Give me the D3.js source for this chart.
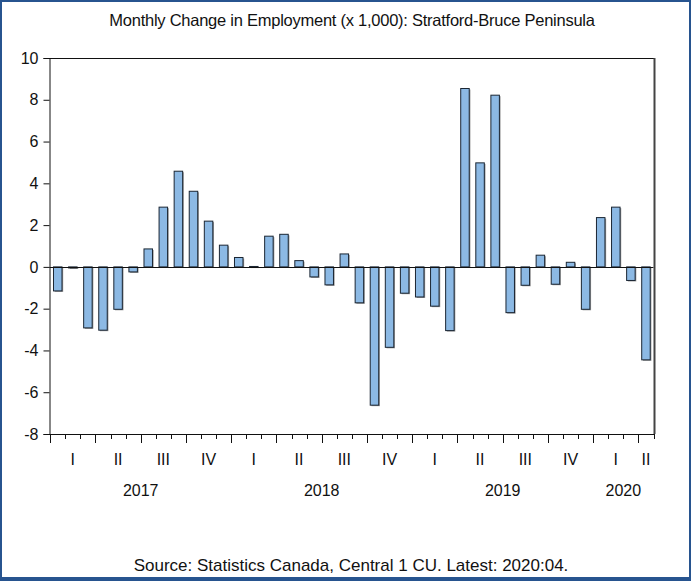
<!DOCTYPE html>
<html>
<head>
<meta charset="utf-8">
<script src="https://cdn.jsdelivr.net/npm/d3@7"></script>
<style>
  html, body { margin: 0; padding: 0; background: #fff; }
  svg { display: block; }
  text { font-family: "Liberation Sans", Arial, sans-serif; fill: #111; }
</style>
</head>
<body>
<svg id="chart" width="691" height="581"></svg>
<script>
// Monthly change in employment (thousands), Jan 2017 – Apr 2020
const startYear = 2017;
const months = d3.range(40).map(i => `${startYear + Math.floor(i / 12)}:${String(i % 12 + 1).padStart(2, "0")}`);
const changes = [
  -1.15, -0.05, -2.92, -3.03, -2.03, -0.24, 0.86, 2.86, 4.58, 3.62, 2.19, 1.04,
  0.45, 0.02, 1.47, 1.56, 0.30, -0.48, -0.86, 0.62, -1.72, -6.62, -3.85, -1.26,
  -1.44, -1.88, -3.05, 8.54, 4.98, 8.22, -2.19, -0.88, 0.56, -0.83, 0.22, -2.03,
  2.36, 2.86, -0.65, -4.45
];
const yTicks = [-8, -6, -4, -2, 0, 2, 4, 6, 8, 10];
const quarterNames = ["I", "II", "III", "IV"];
const years = [2017, 2018, 2019, 2020];
const titleText = "Monthly Change in Employment (x 1,000): Stratford-Bruce Peninsula";
const sourceText = "Source: Statistics Canada, Central 1 CU. Latest: 2020:04.";

const svg = d3.select("#chart");
const W = 691, H = 581;

// Outer frame
svg.append("rect").attr("x", 0).attr("y", 0).attr("width", W).attr("height", H).attr("fill", "#27548f");
svg.append("rect").attr("x", 2).attr("y", 2).attr("width", W - 4).attr("height", H - 6).attr("fill", "#fff");

const plot = { left: 49.5, right: 653.5, top: 58, bottom: 434 };
const bandLeft = 50.2;

const x = d3.scaleBand().domain(d3.range(months.length)).range([bandLeft, plot.right]).paddingInner(0).paddingOuter(0);
const y = d3.scaleLinear().domain([-8, 10]).range([plot.bottom, plot.top]);
const step = x.step();
const boundary = i => bandLeft + i * step;
const barW = 8.5;

// Title
svg.append("text").attr("x", 352).attr("y", 26).attr("text-anchor", "middle")
  .style("font-size", "16.5px").style("letter-spacing", "-0.25px").text(titleText);

// Bars with a soft grey shadow
const bars = svg.append("g");
bars.selectAll("rect.shadow").data(changes).join("rect").attr("class", "shadow")
  .attr("x", (d, i) => x(i) + (step - barW) / 2 + 1.2)
  .attr("y", d => Math.min(y(d), y(0)) + 1)
  .attr("width", barW)
  .attr("height", d => Math.max(Math.abs(y(d) - y(0)), 0.6))
  .attr("fill", "#9a9a9a");
bars.selectAll("rect.bar").data(changes).join("rect").attr("class", "bar")
  .attr("x", (d, i) => x(i) + (step - barW) / 2)
  .attr("y", d => Math.min(y(d), y(0)))
  .attr("width", barW)
  .attr("height", d => Math.max(Math.abs(y(d) - y(0)), 0.6))
  .attr("fill", "#8cb9e4")
  .attr("stroke", "#1b2633")
  .attr("stroke-width", 1);

// Zero line
svg.append("line").attr("x1", plot.left).attr("x2", plot.right)
  .attr("y1", Math.round(y(0)) + 0.5).attr("y2", Math.round(y(0)) + 0.5)
  .attr("stroke", "#111").attr("stroke-width", 1);

// Plot frame: top and right edges
svg.append("line").attr("x1", plot.left).attr("x2", plot.right + 1).attr("y1", plot.top + 0.5).attr("y2", plot.top + 0.5)
  .attr("stroke", "#111").attr("stroke-width", 1);
svg.append("line").attr("x1", plot.right + 1).attr("x2", plot.right + 1).attr("y1", plot.top).attr("y2", plot.bottom)
  .attr("stroke", "#444").attr("stroke-width", 2);

// Left axis (plain hyphen for negatives)
const yAxis = d3.axisLeft(y).tickValues(yTicks).tickSize(6).tickPadding(5).tickFormat(d => String(d));
const gy = svg.append("g").attr("transform", `translate(${plot.left},0)`).call(yAxis);
gy.select(".domain").attr("stroke", "#111");
gy.selectAll(".tick line").attr("stroke", "#111");
gy.selectAll(".tick text").style("font-size", "16px").attr("fill", "#111").style("font-family", "Liberation Sans, Arial, sans-serif");

// Bottom axis: month ticks, longer at quarter boundaries
const gx = svg.append("g");
gx.append("line").attr("x1", plot.left).attr("x2", plot.right + 1).attr("y1", plot.bottom + 0.5).attr("y2", plot.bottom + 0.5)
  .attr("stroke", "#111");
gx.selectAll("line.tick").data(d3.range(months.length + 1)).join("line").attr("class", "tick")
  .attr("x1", i => Math.round(boundary(i)) + 0.5).attr("x2", i => Math.round(boundary(i)) + 0.5)
  .attr("y1", plot.bottom)
  .attr("y2", i => plot.bottom + (i % 3 === 0 && i < months.length ? 9 : 5))
  .attr("stroke", "#111");

// Quarter labels
const quarters = d3.range(Math.ceil(months.length / 3)).map(q => ({
  name: quarterNames[q % 4],
  from: q * 3,
  to: Math.min(q * 3 + 3, months.length)
}));
gx.selectAll("text.q").data(quarters).join("text").attr("class", "q")
  .attr("x", d => (boundary(d.from) + boundary(d.to)) / 2)
  .attr("y", 465).attr("text-anchor", "middle").style("font-size", "16px")
  .text(d => d.name);

// Year labels
const yearSpans = years.map((yr, k) => ({ yr, from: k * 12, to: Math.min(k * 12 + 12, months.length) }));
gx.selectAll("text.yr").data(yearSpans).join("text").attr("class", "yr")
  .attr("x", d => (boundary(d.from) + boundary(d.to)) / 2)
  .attr("y", 496).attr("text-anchor", "middle").style("font-size", "16px")
  .text(d => d.yr);

// Source note
svg.append("text").attr("x", 351).attr("y", 571).attr("text-anchor", "middle")
  .style("font-size", "17px").style("letter-spacing", "0px").text(sourceText);
</script>
</body>
</html>
